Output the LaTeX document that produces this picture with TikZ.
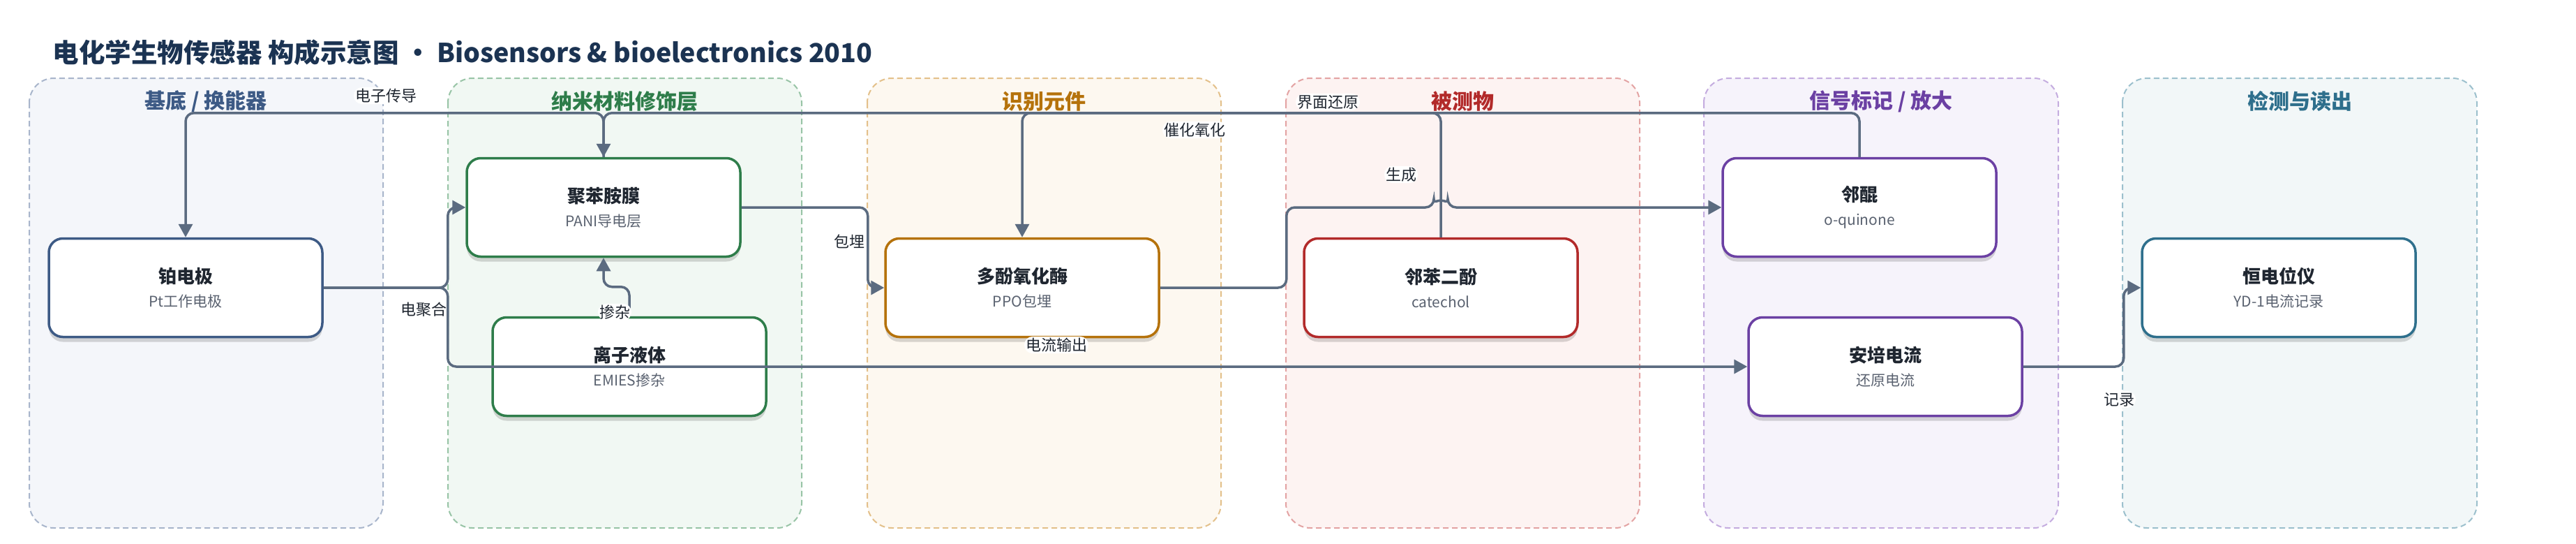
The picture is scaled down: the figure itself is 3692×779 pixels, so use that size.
\documentclass[tikz,border=0pt]{standalone}
\usepackage{fontspec}
\setmainfont{Noto Sans CJK SC}
\usepackage{tikz}
\usetikzlibrary{arrows.meta,shadows}

\definecolor{titlec}{HTML}{1B3352}
\definecolor{linkc}{HTML}{5B6B80}
\definecolor{textc}{HTML}{1F2630}
\definecolor{subc}{HTML}{5A6270}
\definecolor{baseF}{HTML}{F4F6FA}
\definecolor{baseD}{HTML}{A8B5CB}
\definecolor{baseC}{HTML}{3D5A85}
\definecolor{nanoF}{HTML}{F1F8F3}
\definecolor{nanoD}{HTML}{98C4A6}
\definecolor{nanoC}{HTML}{2E7D4A}
\definecolor{recoF}{HTML}{FDF8F0}
\definecolor{recoD}{HTML}{E3C08A}
\definecolor{recoC}{HTML}{B5720B}
\definecolor{anaF}{HTML}{FDF3F2}
\definecolor{anaD}{HTML}{E3A3A3}
\definecolor{anaC}{HTML}{B22A2A}
\definecolor{sigF}{HTML}{F6F3FB}
\definecolor{sigD}{HTML}{C4ACDF}
\definecolor{sigC}{HTML}{6B40A3}
\definecolor{detF}{HTML}{F2F7F8}
\definecolor{detD}{HTML}{9CC0CD}
\definecolor{detC}{HTML}{2E6F8C}

\begin{document}
\begin{tikzpicture}[x=1pt, y=-1pt,
    lane/.style={line width=2pt, dash pattern=on 8pt off 5pt, rounded corners=35pt},
    lanetitle/.style={font=\fontsize{30}{34}\selectfont\bfseries},
    box/.style={draw, fill=white, line width=3.5pt, rounded corners=20pt,
        minimum width=392pt, minimum height=141pt, align=center, text=textc,
        font=\fontsize{21}{34}\selectfont,
        drop shadow={shadow xshift=0pt, shadow yshift=-7pt, opacity=0.15, fill=black}},
    link/.style={draw=linkc, line width=3.5pt, rounded corners=12pt,
        -{Triangle[length=19pt,width=20pt]}},
    lbl/.style={fill=white, text=textc, inner sep=2pt, font=\fontsize{22}{24}\selectfont}]
\useasboundingbox (0,0) rectangle (3692,779);
% Title
\node[anchor=west, text=titlec, font=\fontsize{37.5}{42}\selectfont\bfseries] (title) at (72,75)
    {电化学生物传感器 构成示意图 · Biosensors \& bioelectronics 2010};
% Lanes
\draw[lane, draw=baseD, fill=baseF] (42,112) rectangle (549,756);
\draw[lane, draw=nanoD, fill=nanoF] (642,112) rectangle (1149,756);
\draw[lane, draw=recoD, fill=recoF] (1243,112) rectangle (1750,756);
\draw[lane, draw=anaD, fill=anaF] (1843,112) rectangle (2350,756);
\draw[lane, draw=sigD, fill=sigF] (2442,112) rectangle (2950,756);
\draw[lane, draw=detD, fill=detF] (3042,112) rectangle (3550,756);
\node[lanetitle, text=baseC] (t1) at (295,145) {基底 / 换能器};
\node[lanetitle, text=nanoC] (t2) at (895,145) {纳米材料修饰层};
\node[lanetitle, text=recoC] (t3) at (1496,145) {识别元件};
\node[lanetitle, text=anaC] (t4) at (2096,145) {被测物};
\node[lanetitle, text=sigC] (t5) at (2696,145) {信号标记 / 放大};
\node[lanetitle, text=detC] (t6) at (3296,145) {检测与读出};
% Nodes
\node[box, draw=baseC] (pt) at (266,412)
    {{\fontsize{26}{34}\selectfont\bfseries 铂电极}\\{\color{subc}Pt工作电极}};
\node[box, draw=nanoC] (pani) at (865,297)
    {{\fontsize{26}{34}\selectfont\bfseries 聚苯胺膜}\\{\color{subc}PANI导电层}};
\node[box, draw=nanoC] (il) at (902,525)
    {{\fontsize{26}{34}\selectfont\bfseries 离子液体}\\{\color{subc}EMIES掺杂}};
\node[box, draw=recoC] (ppo) at (1465,412)
    {{\fontsize{26}{34}\selectfont\bfseries 多酚氧化酶}\\{\color{subc}PPO包埋}};
\node[box, draw=anaC] (cat) at (2065,412)
    {{\fontsize{26}{34}\selectfont\bfseries 邻苯二酚}\\{\color{subc}catechol}};
\node[box, draw=sigC] (oq) at (2665,297)
    {{\fontsize{26}{34}\selectfont\bfseries 邻醌}\\{\color{subc}o-quinone}};
\node[box, draw=sigC] (amp) at (2702,525)
    {{\fontsize{26}{34}\selectfont\bfseries 安培电流}\\{\color{subc}还原电流}};
\node[box, draw=detC] (pot) at (3266,412)
    {{\fontsize{26}{34}\selectfont\bfseries 恒电位仪}\\{\color{subc}YD-1电流记录}};
% Edges
\draw[link] (pt.east) -- ++(178,0) |- (pani.west) node[lbl] at (607,443) {电聚合};
\draw[link] (pt.east) -- ++(178,0) |- (amp.west) node[lbl] at (1514,494) {电流输出};
\draw[link] (il.north) -- ++(0,-42) -| (pani.south) node[lbl] at (881,447) {掺杂};
\draw[link] (pani.east) -- ++(181,0) |- (ppo.west) node[lbl] at (1217,346) {包埋};
\draw[link] (pani.north) -- ++(0,-63) -| (pt.north) node[lbl] at (553,137) {电子传导};
\draw[link] (oq.north) -- ++(0,-63) -| (pani.north) node[lbl] at (1903,146) {界面还原};
\draw[link] (cat.north) -- ++(0,-178) -| (ppo.north) node[lbl] at (1712,186) {催化氧化};
\draw[link] (ppo.east) -- ++(181,0) -- ++(0,-115) -- ([xshift=-10pt]cat.north |- oq.west)
    arc[start angle=180, end angle=0, radius=10pt] -- (oq.west)
    node[lbl] at (2008,250) {生成};
\draw[link] (amp.east) -- ++(144,0) |- (pot.west) node[lbl] at (3037,572) {记录};
\end{tikzpicture}
\end{document}
